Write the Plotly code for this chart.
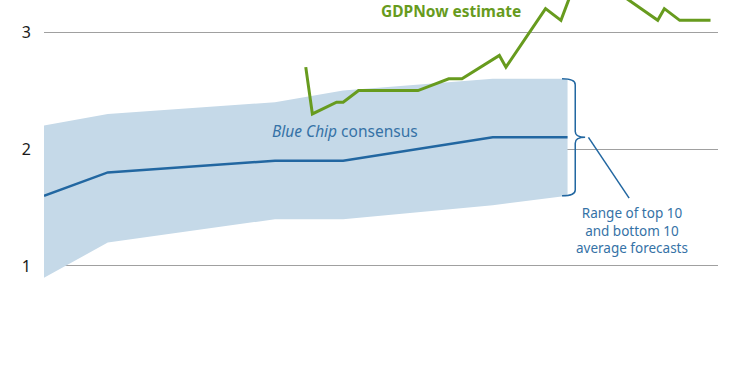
import plotly.graph_objects as go

# ---- data (x = days from first Blue Chip survey) ----
bc_days = [0, 29, 105, 136, 204, 238]
bc_consensus = [1.6, 1.8, 1.9, 1.9, 2.1, 2.1]
bc_top10 = [2.2, 2.3, 2.4, 2.5, 2.6, 2.6]
bc_bottom10 = [0.9, 1.2, 1.4, 1.4, 1.52, 1.6]

gdpnow_days = [119, 122, 133, 136, 143, 170, 184, 190, 207, 210, 228, 235, 241, 253, 260, 279, 282, 289, 303]
gdpnow_values = [2.7, 2.3, 2.4, 2.4, 2.5, 2.5, 2.6, 2.6, 2.8, 2.7, 3.2, 3.1, 3.4, 3.5, 3.35, 3.1, 3.2, 3.1, 3.1]

y_ticks = [1, 2, 3]
y_tick_labels = ["1", "2", "3"]

BAND = "#c5d9e8"
BLUE = "#2267a1"
TXTBLUE = "#3572a6"
GREEN = "#679b1e"
FONT = "Noto Sans"

fig = go.Figure()

# band
fig.add_trace(go.Scatter(x=bc_days, y=bc_top10, mode="lines", line=dict(width=0),
                         hoverinfo="skip", showlegend=False))
fig.add_trace(go.Scatter(x=bc_days, y=bc_bottom10, mode="lines", line=dict(width=0),
                         fill="tonexty", fillcolor=BAND, hoverinfo="skip", showlegend=False))
# consensus
fig.add_trace(go.Scatter(x=bc_days, y=bc_consensus, mode="lines",
                         line=dict(color=BLUE, width=2.5), showlegend=False))
# GDPNow
fig.add_trace(go.Scatter(x=gdpnow_days, y=gdpnow_values, mode="lines",
                         line=dict(color=GREEN, width=3), showlegend=False))

# brace to the right of the band
xe = bc_days[-1]
yt, yb = bc_top10[-1], bc_bottom10[-1]
ym = (yt + yb) / 2
x0 = xe - 2.5
x1 = xe + 3.5
x2 = xe + 8
d = 0.05
path = (f"M {x0},{yt} Q {x1},{yt} {x1},{yt-d} L {x1},{ym+d} Q {x1},{ym} {x2},{ym} "
        f"Q {x1},{ym} {x1},{ym-d} L {x1},{yb+d} Q {x1},{yb} {x0},{yb}")
fig.add_shape(type="path", path=path, xref="x", yref="y",
              line=dict(color=BLUE, width=1.5))
# leader line
fig.add_shape(type="line", xref="x", yref="y", x0=x2 + 1.5, y0=ym, x1=xe + 28, y1=yb - 0.02,
              line=dict(color=BLUE, width=1.5))

fig.add_annotation(x=xe + 29.5, y=yb - 0.05, xref="x", yref="y", yanchor="top",
                   text="Range of top 10<br>and bottom 10<br>average forecasts",
                   showarrow=False, align="center",
                   font=dict(family=FONT, size=13.5, color=TXTBLUE))
fig.add_annotation(x=137, y=2.15, xref="x", yref="y",
                   text="<i>Blue Chip</i> consensus", showarrow=False,
                   font=dict(family=FONT, size=15.5, color=TXTBLUE))
fig.add_annotation(x=185, y=3.18, xref="x", yref="y",
                   text="<b>GDPNow estimate</b>", showarrow=False,
                   font=dict(family=FONT, size=15.5, color=GREEN))

fig.update_layout(
    width=750, height=375,
    margin=dict(l=44, r=32, t=0, b=0),
    paper_bgcolor="white", plot_bgcolor="white",
    hovermode=False,
    xaxis=dict(range=[0, 306.4], visible=False, showgrid=False, zeroline=False),
    yaxis=dict(range=[0.068, 3.274], tickvals=y_ticks, ticktext=y_tick_labels,
               showgrid=True, gridcolor="#a0a0a0", gridwidth=1, zeroline=False,
               showline=False, ticks="", ticklabelstandoff=12, automargin=False,
               tickfont=dict(family=FONT, size=16, color="#1a1a1a")),
)

fig.write_html("out.html", config={"displayModeBar": False, "staticPlot": True},
               post_script="document.body.style.margin='0';document.body.style.overflow='hidden';")
